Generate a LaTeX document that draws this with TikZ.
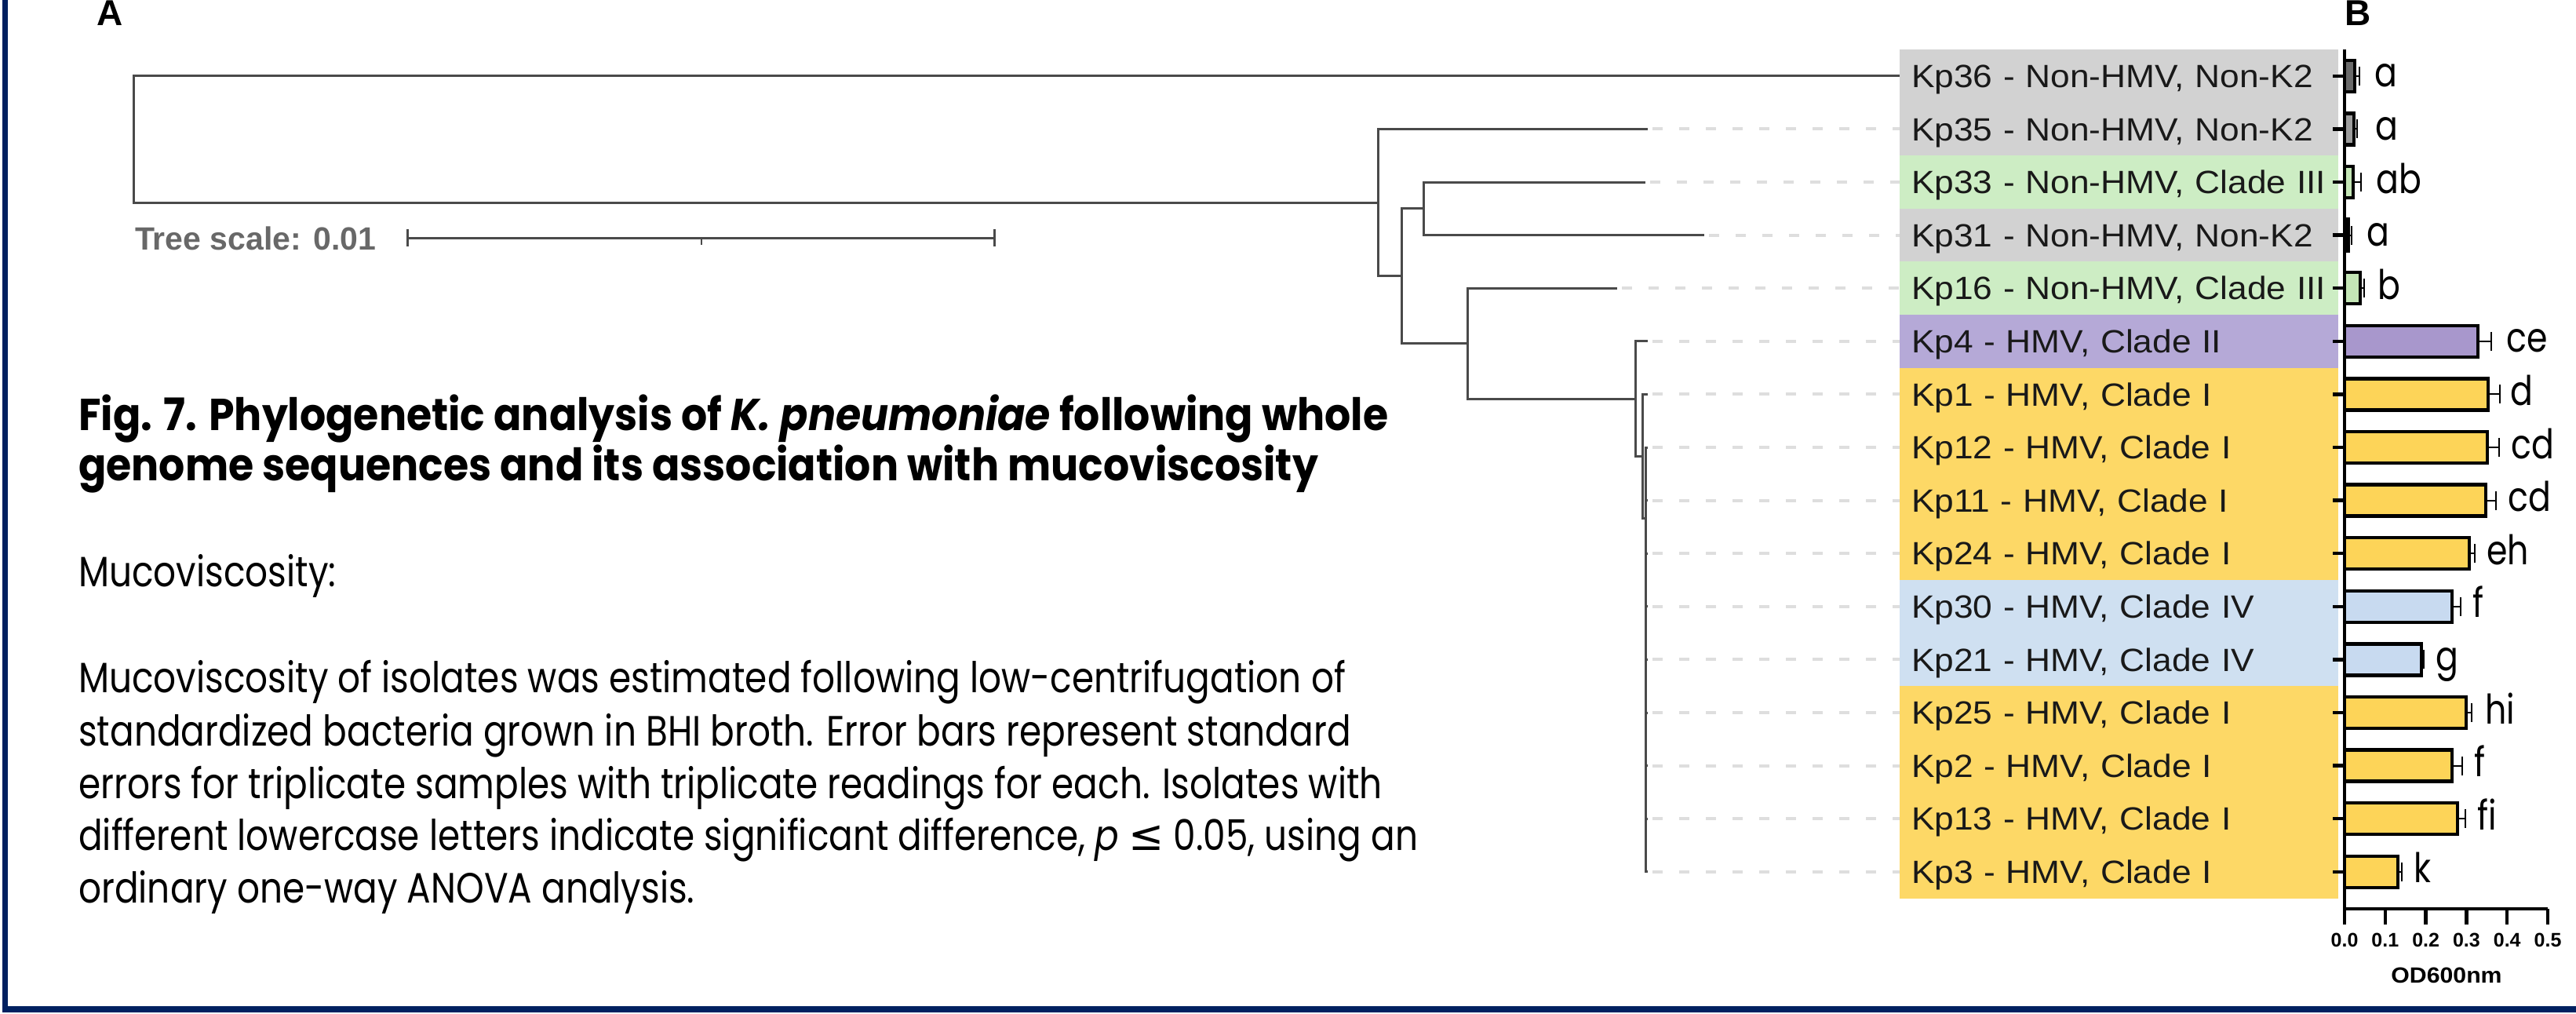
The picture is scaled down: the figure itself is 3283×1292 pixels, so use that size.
\documentclass[tikz,border=0pt]{standalone}
\usepackage{fontspec}
\setmainfont{Poppins}
\newfontfamily\arialfont{Liberation Sans}
\newfontfamily\lblfont[FakeStretch=1.08]{Liberation Sans}
\newfontfamily\capboldfont[FakeStretch=0.915]{Poppins}
\newfontfamily\capbodyfont[FakeStretch=0.84]{Poppins}
\newfontfamily\sigfont[FakeStretch=0.82]{Poppins}
\newfontfamily\lesymfont{DejaVu Sans}
\usetikzlibrary{positioning, arrows.meta}

\definecolor{navy}{HTML}{002060}
\definecolor{treegray}{HTML}{4A4A4A}
\definecolor{scalegray}{HTML}{686868}
\definecolor{leadgray}{HTML}{DEDEDE}
\definecolor{boxgray}{HTML}{D2D2D2}
\definecolor{boxgreen}{HTML}{CDEDC4}
\definecolor{boxpurple}{HTML}{B5A9D7}
\definecolor{boxyellow}{HTML}{FDD866}
\definecolor{boxblue}{HTML}{CFE0F1}
\definecolor{bardark}{HTML}{6A6A6A}
\definecolor{barmid}{HTML}{9C9C9C}
\definecolor{bargreen}{HTML}{C4E6B6}
\definecolor{barpurple}{HTML}{A897CC}
\definecolor{baryellow}{HTML}{FDD458}
\definecolor{barblue}{HTML}{C8DAF0}

\tikzstyle{branch} = [treegray, line width=3pt]
\tikzstyle{leader} = [leadgray, line width=4pt, dash pattern=on 13pt off 21pt, shorten <=6pt]
\tikzstyle{lbl} = [rectangle, inner sep=0pt, outer sep=0pt, minimum width=559pt, minimum height=67.6pt, text width=529pt, align=left, text height=29.4pt, text depth=0pt, text=black!90, font=\lblfont\fontsize{41}{48}\selectfont]
\tikzstyle{barbox} = [rectangle, draw=black, line width=4.5pt, inner sep=0pt, outer sep=0pt, minimum height=40pt]
\tikzstyle{errbar} = [line width=2pt, -{Bar[width=24pt, line width=2pt]}]
\tikzstyle{sig} = [inner sep=0pt, text height=28pt, text depth=0pt, font=\sigfont\fontsize{52}{56}\selectfont]
\tikzstyle{axisline} = [line width=4.5pt]
\tikzstyle{ticklbl} = [inner sep=0pt, font=\arialfont\bfseries\fontsize{25}{30}\selectfont]
\tikzstyle{scalebar} = [treegray, line width=3pt, {Bar[width=22pt, line width=3pt]}-{Bar[width=22pt, line width=3pt]}]
\tikzstyle{titleline} = [inner sep=0pt, anchor=base west, font=\capboldfont\bfseries\fontsize{57}{64}\selectfont]
\tikzstyle{capline} = [inner sep=0pt, anchor=base west, font=\capbodyfont\fontsize{54}{67}\selectfont]

\begin{document}
\begin{tikzpicture}[x=1pt, y=-1pt, node distance=8pt]
    \useasboundingbox (0,0) rectangle (3283,1292);
    \fill [white] (0,0) rectangle (3283,1292);

    % Panel letters
    \node (pa) [anchor=base west, inner sep=0pt, font=\arialfont\bfseries\fontsize{46}{50}\selectfont] at (123,33) {A};
    \node (pb) [anchor=base west, inner sep=0pt, font=\arialfont\bfseries\fontsize{46}{50}\selectfont] at (2988,33) {B};

    % Labels
    \node (k36) [lbl, fill=boxgray, anchor=north west] at (2421,63) {Kp36 - Non-HMV, Non-K2};
    \node (k35) [lbl, fill=boxgray, below=0pt of k36] {Kp35 - Non-HMV, Non-K2};
    \node (k33) [lbl, fill=boxgreen, below=0pt of k35] {Kp33 - Non-HMV, Clade III};
    \node (k31) [lbl, fill=boxgray, below=0pt of k33] {Kp31 - Non-HMV, Non-K2};
    \node (k16) [lbl, fill=boxgreen, below=0pt of k31] {Kp16 - Non-HMV, Clade III};
    \node (k4) [lbl, fill=boxpurple, below=0pt of k16] {Kp4 - HMV, Clade II};
    \node (k1) [lbl, fill=boxyellow, below=0pt of k4] {Kp1 - HMV, Clade I};
    \node (k12) [lbl, fill=boxyellow, below=0pt of k1] {Kp12 - HMV, Clade I};
    \node (k11) [lbl, fill=boxyellow, below=0pt of k12] {Kp11 - HMV, Clade I};
    \node (k24) [lbl, fill=boxyellow, below=0pt of k11] {Kp24 - HMV, Clade I};
    \node (k30) [lbl, fill=boxblue, below=0pt of k24] {Kp30 - HMV, Clade IV};
    \node (k21) [lbl, fill=boxblue, below=0pt of k30] {Kp21 - HMV, Clade IV};
    \node (k25) [lbl, fill=boxyellow, below=0pt of k21] {Kp25 - HMV, Clade I};
    \node (k2) [lbl, fill=boxyellow, below=0pt of k25] {Kp2 - HMV, Clade I};
    \node (k13) [lbl, fill=boxyellow, below=0pt of k2] {Kp13 - HMV, Clade I};
    \node (k3) [lbl, fill=boxyellow, below=0pt of k13] {Kp3 - HMV, Clade I};

    % Tree
    \coordinate (r) at (170,177.4);
    \coordinate (n1) at (1756,258);
    \coordinate (n2) at (1786,351.7);
    \coordinate (n3) at (1814,265.8);
    \coordinate (n4) at (1870,437.6);
    \coordinate (n5) at (2084,508);
    \coordinate (n6) at (2093,581);
    \coordinate (n7) at (2097,660);
    \coordinate (t35) at (2100,0 |- k35);
    \coordinate (t33) at (2097,0 |- k33);
    \coordinate (t31) at (2172,0 |- k31);
    \coordinate (t16) at (2061,0 |- k16);
    \coordinate (t4) at (2100,0 |- k4);
    \coordinate (t1) at (2100,0 |- k1);
    \coordinate (t12) at (2100,0 |- k12);
    \coordinate (t11) at (2100,0 |- k11);
    \coordinate (t24) at (2100,0 |- k24);
    \coordinate (t30) at (2100,0 |- k30);
    \coordinate (t21) at (2100,0 |- k21);
    \coordinate (t25) at (2100,0 |- k25);
    \coordinate (t2) at (2100,0 |- k2);
    \coordinate (t13) at (2100,0 |- k13);
    \coordinate (t3) at (2100,0 |- k3);

    \draw [branch] (r) |- (k36.west);
    \draw [branch] (r) |- (n1);
    \draw [branch] (n1) |- (t35);
    \draw [branch] (n1) |- (n2);
    \draw [branch] (n2) |- (n3);
    \draw [branch] (n2) |- (n4);
    \draw [branch] (n3) |- (t33);
    \draw [branch] (n3) |- (t31);
    \draw [branch] (n4) |- (t16);
    \draw [branch] (n4) |- (n5);
    \draw [branch] (n5) |- (t4);
    \draw [branch] (n5) |- (n6);
    \draw [branch] (n6) |- (t1);
    \draw [branch] (n6) |- (n7);
    \draw [branch] (n7) |- (t12);
    \draw [branch] (n7) |- (t11);
    \draw [branch] (n7) |- (t24);
    \draw [branch] (n7) |- (t30);
    \draw [branch] (n7) |- (t21);
    \draw [branch] (n7) |- (t25);
    \draw [branch] (n7) |- (t2);
    \draw [branch] (n7) |- (t13);
    \draw [branch] (n7) |- (t3);

    \draw [leader] (t35) -- (k35.west);
    \draw [leader] (t33) -- (k33.west);
    \draw [leader] (t31) -- (k31.west);
    \draw [leader] (t16) -- (k16.west);
    \draw [leader] (t4) -- (k4.west);
    \draw [leader] (t1) -- (k1.west);
    \draw [leader] (t12) -- (k12.west);
    \draw [leader] (t11) -- (k11.west);
    \draw [leader] (t24) -- (k24.west);
    \draw [leader] (t30) -- (k30.west);
    \draw [leader] (t21) -- (k21.west);
    \draw [leader] (t25) -- (k25.west);
    \draw [leader] (t2) -- (k2.west);
    \draw [leader] (t13) -- (k13.west);
    \draw [leader] (t3) -- (k3.west);

    % Tree scale
    \node (tscale) [anchor=base west, inner sep=0pt, text=scalegray, font=\arialfont\bfseries\fontsize{41}{46}\selectfont] at (172,318) {Tree scale: 0.01};
    \coordinate (s0) at (518,303);
    \coordinate (s1) at (1269,303);
    \coordinate (s2) at (893.5,303);
    \draw [scalebar] (s0) -- (s1);
    \draw [treegray, line width=2pt] (s2) -- ++(0,9);

    % Bars
    \node (b36) [barbox, fill=bardark, minimum width=13pt, right=8pt of k36] {};
    \node (b35) [barbox, fill=barmid, minimum width=12pt, right=8pt of k35] {};
    \node (b33) [barbox, fill=bargreen, minimum width=11pt, right=8pt of k33] {};
    \node (b31) [barbox, fill=black, minimum width=5pt, right=8pt of k31] {};
    \node (b16) [barbox, fill=bargreen, minimum width=20pt, right=8pt of k16] {};
    \node (b4) [barbox, fill=barpurple, minimum width=170pt, right=8pt of k4] {};
    \node (b1) [barbox, fill=baryellow, minimum width=183pt, right=8pt of k1] {};
    \node (b12) [barbox, fill=baryellow, minimum width=182pt, right=8pt of k12] {};
    \node (b11) [barbox, fill=baryellow, minimum width=180pt, right=8pt of k11] {};
    \node (b24) [barbox, fill=baryellow, minimum width=159pt, right=8pt of k24] {};
    \node (b30) [barbox, fill=barblue, minimum width=137pt, right=8pt of k30] {};
    \node (b21) [barbox, fill=barblue, minimum width=98pt, right=8pt of k21] {};
    \node (b25) [barbox, fill=baryellow, minimum width=155pt, right=8pt of k25] {};
    \node (b2) [barbox, fill=baryellow, minimum width=137pt, right=8pt of k2] {};
    \node (b13) [barbox, fill=baryellow, minimum width=144pt, right=8pt of k13] {};
    \node (b3) [barbox, fill=baryellow, minimum width=68pt, right=8pt of k3] {};

    % Error bars and letters
    \draw [errbar] (b36.east) -- ++(7,0) coordinate (e36);
    \draw [errbar] (b35.east) -- ++(5,0) coordinate (e35);
    \draw [errbar] (b33.east) -- ++(11,0) coordinate (e33);
    \draw [errbar] (b31.east) -- ++(5,0) coordinate (e31);
    \draw [errbar] (b16.east) -- ++(6,0) coordinate (e16);
    \draw [errbar] (b4.east) -- ++(18,0) coordinate (e4);
    \draw [errbar] (b1.east) -- ++(16,0) coordinate (e1);
    \draw [errbar] (b12.east) -- ++(16,0) coordinate (e12);
    \draw [errbar] (b11.east) -- ++(14,0) coordinate (e11);
    \draw [errbar] (b24.east) -- ++(8,0) coordinate (e24);
    \draw [errbar] (b30.east) -- ++(12,0) coordinate (e30);
    \draw [errbar] (b21.east) -- ++(4,0) coordinate (e21);
    \draw [errbar] (b25.east) -- ++(8,0) coordinate (e25);
    \draw [errbar] (b2.east) -- ++(14,0) coordinate (e2);
    \draw [errbar] (b13.east) -- ++(11,0) coordinate (e13);
    \draw [errbar] (b3.east) -- ++(6,0) coordinate (e3);

    \node [sig, right=18pt of e36] {a};
    \node [sig, right=22pt of e35] {a};
    \node [sig, right=18pt of e33] {ab};
    \node [sig, right=18pt of e31] {a};
    \node [sig, right=16pt of e16] {b};
    \node [sig, right=18pt of e4] {ce};
    \node [sig, right=12pt of e1] {d};
    \node [sig, right=14pt of e12] {cd};
    \node [sig, right=14pt of e11] {cd};
    \node [sig, right=14pt of e24] {eh};
    \node [sig, right=14pt of e30] {f};
    \node [sig, right=14pt of e21] {g};
    \node [sig, right=16pt of e25] {hi};
    \node [sig, right=14pt of e2] {f};
    \node [sig, right=14pt of e13] {fi};
    \node [sig, right=14pt of e3] {k};

    % Axes
    \coordinate (ytop) at (2988,63);
    \coordinate (orig) at (2988,1158);
    \coordinate (xend) at (3247,1158);
    \draw [axisline] (ytop) -- (orig) -- (xend);
    \draw [axisline] ([xshift=-7pt]k36.east) -- (b36.west);
    \draw [axisline] ([xshift=-7pt]k35.east) -- (b35.west);
    \draw [axisline] ([xshift=-7pt]k33.east) -- (b33.west);
    \draw [axisline] ([xshift=-7pt]k31.east) -- (b31.west);
    \draw [axisline] ([xshift=-7pt]k16.east) -- (b16.west);
    \draw [axisline] ([xshift=-7pt]k4.east) -- (b4.west);
    \draw [axisline] ([xshift=-7pt]k1.east) -- (b1.west);
    \draw [axisline] ([xshift=-7pt]k12.east) -- (b12.west);
    \draw [axisline] ([xshift=-7pt]k11.east) -- (b11.west);
    \draw [axisline] ([xshift=-7pt]k24.east) -- (b24.west);
    \draw [axisline] ([xshift=-7pt]k30.east) -- (b30.west);
    \draw [axisline] ([xshift=-7pt]k21.east) -- (b21.west);
    \draw [axisline] ([xshift=-7pt]k25.east) -- (b25.west);
    \draw [axisline] ([xshift=-7pt]k2.east) -- (b2.west);
    \draw [axisline] ([xshift=-7pt]k13.east) -- (b13.west);
    \draw [axisline] ([xshift=-7pt]k3.east) -- (b3.west);

    \node (x0) [ticklbl] at (2988,1198) {0.0};
    \node (x1) [ticklbl] at (3039.8,1198) {0.1};
    \node (x2) [ticklbl] at (3091.6,1198) {0.2};
    \node (x3) [ticklbl] at (3143.4,1198) {0.3};
    \node (x4) [ticklbl] at (3195.2,1198) {0.4};
    \node (x5) [ticklbl] at (3247,1198) {0.5};
    \draw [axisline] (x0 |- orig) -- ++(0,20);
    \draw [axisline] (x1 |- orig) -- ++(0,20);
    \draw [axisline] (x2 |- orig) -- ++(0,20);
    \draw [axisline] (x3 |- orig) -- ++(0,20);
    \draw [axisline] (x4 |- orig) -- ++(0,20);
    \draw [axisline] (x5 |- orig) -- ++(0,20);
    \node (xlab) [inner sep=0pt, font=\lblfont\bfseries\fontsize{28}{32}\selectfont] at (3118,1243) {OD600nm};

    % Caption
    \node (tt1) [titleline] at (100,548) {Fig. 7. Phylogenetic analysis of \textit{K. pneumoniae} following whole};
    \node (tt2) [titleline] at (100,612) {genome sequences and its association with mucoviscosity};
    \node (mh) [capline] at (100,747) {Mucoviscosity:};
    \node (c1) [capline] at (100,882) {Mucoviscosity of isolates was estimated following low-centrifugation of};
    \node (c2) [capline] at (100,950) {standardized bacteria grown in BHI broth. Error bars represent standard};
    \node (c3) [capline] at (100,1017) {errors for triplicate samples with triplicate readings for each. Isolates with};
    \node (c4) [capline] at (100,1083) {different lowercase letters indicate significant difference, \textit{p} {\lesymfont ≤} 0.05, using an};
    \node (c5) [capline] at (100,1150) {ordinary one-way ANOVA analysis.};

    % Frame
    \draw [navy, line width=7.5pt] (6.5,0) -- (6.5,1286) -- (3283,1286);
\end{tikzpicture}
\end{document}
